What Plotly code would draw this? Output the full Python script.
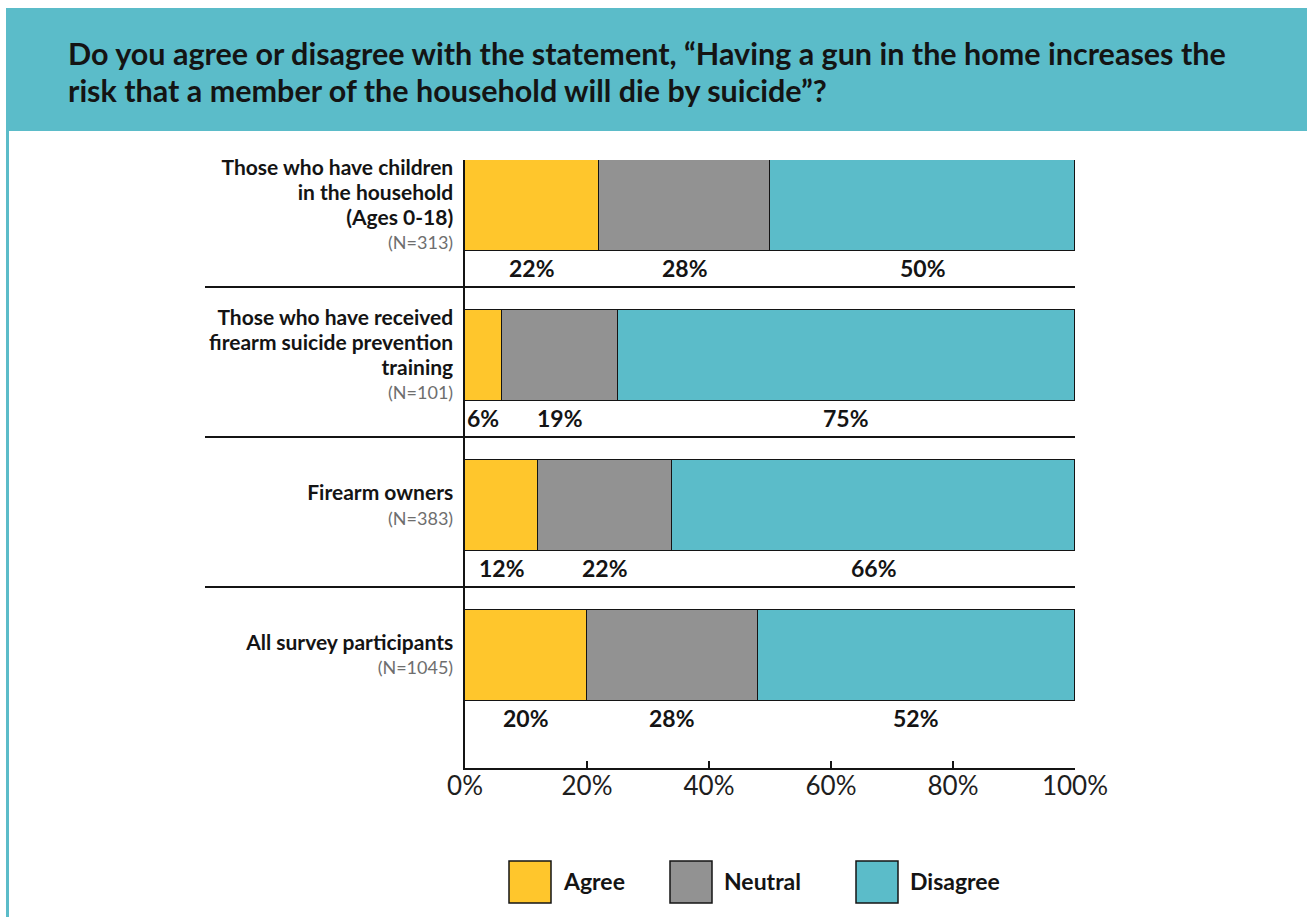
import plotly.graph_objects as go

# ---- data ----
groups = [
    ["Those who have children", "in the household", "(Ages 0-18)"],
    ["Those who have received", "firearm suicide prevention", "training"],
    ["Firearm owners"],
    ["All survey participants"],
]
sample_sizes = [313, 101, 383, 1045]
agree = [22, 6, 12, 20]
neutral = [28, 19, 22, 28]
disagree = [50, 75, 66, 52]
series_names = ["Agree", "Neutral", "Disagree"]
series_colors = ["#FFC62C", "#929292", "#5BBCC9"]
x_tick_values = [0, 20, 40, 60, 80, 100]
x_tick_labels = ["0%", "20%", "40%", "60%", "80%", "100%"]
title_lines = [
    "Do you agree or disagree with the statement, \u201cHaving a gun in the home increases the",
    "risk that a member of the household will die by suicide\u201d?",
]

# ---- layout geometry (pixels) ----
FIG_W, FIG_H = 1307, 917
M_L, M_R, M_T, M_B = 465, 232, 160, 149
PLOT_W = FIG_W - M_L - M_R
PLOT_H = FIG_H - M_T - M_B
BAR_W = 0.607
n_rows = len(groups)
rows = list(range(n_rows))[::-1]          # top group drawn highest
Y_MIN, Y_MAX = -0.75, (n_rows - 1) + BAR_W / 2

TEAL = "#5BBCC9"
INK = "#141414"
FONT = "Lato"


def px_x(p):
    return (p - M_L) / PLOT_W


def px_y(p):
    return (FIG_H - M_B - p) / PLOT_H


def row_to_paper(v):
    return (v - Y_MIN) / (Y_MAX - Y_MIN)


series_values = [agree, neutral, disagree]

fig = go.Figure()
for name, color, vals in zip(series_names, series_colors, series_values):
    fig.add_trace(go.Bar(
        name=name,
        x=vals,
        y=rows,
        orientation="h",
        width=BAR_W,
        marker=dict(color=color, line=dict(color=INK, width=1.5)),
        showlegend=False,
        hoverinfo="skip",
    ))

# category labels with sample sizes
tick_text = []
for lines, n in zip(groups, sample_sizes):
    bold = "<br>".join(
        f"<span style='font-size:21px'><b>{ln}</b></span>" for ln in lines
    )
    tick_text.append(
        f"{bold}<br><span style='font-size:18px;color:#6e6e6e'>(N={n})</span>"
    )

annotations = []
shapes = []

# percentage labels under each segment
for r, a, n, d in zip(rows, agree, neutral, disagree):
    start = 0
    for v in (a, n, d):
        annotations.append(dict(
            xref="x", yref="y", x=start + v / 2, y=r - 0.417,
            text=f"<b>{v}%</b>", showarrow=False,
            font=dict(family=FONT, size=23, color=INK),
            xanchor="center", yanchor="middle",
        ))
        start += v

# separators between groups
for r in rows[:-1]:
    yy = row_to_paper(r - 0.543)
    shapes.append(dict(
        type="line", xref="paper", yref="paper",
        x0=px_x(205), x1=1, y0=yy, y1=yy,
        line=dict(color=INK, width=2),
    ))

# header band and frame line
shapes.append(dict(
    type="rect", xref="paper", yref="paper",
    x0=px_x(6), x1=px_x(FIG_W + 2), y0=px_y(131), y1=px_y(8),
    fillcolor=TEAL, line=dict(width=0), layer="below",
))
shapes.append(dict(
    type="rect", xref="paper", yref="paper",
    x0=px_x(6), x1=px_x(9), y0=px_y(FIG_H + 2), y1=px_y(131),
    fillcolor=TEAL, line=dict(width=0), layer="below",
))

# heading, one annotation per line for tight leading
for line, y_mid in zip(title_lines, [53, 90]):
    annotations.append(dict(
        xref="paper", yref="paper", x=px_x(66), y=px_y(y_mid),
        xanchor="left", yanchor="middle", align="left", showarrow=False,
        text=f"<b>{line}</b>",
        font=dict(family=FONT, size=30.5, color=INK),
    ))

# legend swatches
legend_left = [509, 670, 856]
for name, color, x0 in zip(series_names, series_colors, legend_left):
    shapes.append(dict(
        type="rect", xref="paper", yref="paper",
        x0=px_x(x0), x1=px_x(x0 + 42), y0=px_y(903), y1=px_y(861),
        fillcolor=color, line=dict(color=INK, width=1.5),
    ))
    annotations.append(dict(
        xref="paper", yref="paper", x=px_x(x0 + 52), y=px_y(881),
        xanchor="left", yanchor="middle", showarrow=False,
        text=f"<b>{name}</b>",
        font=dict(family=FONT, size=23, color=INK),
    ))

fig.update_layout(
    width=FIG_W, height=FIG_H,
    margin=dict(l=M_L, r=M_R, t=M_T, b=M_B, pad=0),
    paper_bgcolor="white", plot_bgcolor="white",
    barmode="stack", bargap=0,
    showlegend=False,
    font=dict(family=FONT, color=INK),
    xaxis=dict(
        range=[0, 100], tickvals=x_tick_values, ticktext=x_tick_labels,
        showgrid=False, zeroline=False,
        showline=True, linecolor=INK, linewidth=2,
        ticks="inside", ticklen=7, tickwidth=1.5, tickcolor=INK,
        ticklabelstandoff=-6,
        tickfont=dict(family=FONT, size=26, color="#1e1e1e"),
        fixedrange=True,
    ),
    yaxis=dict(
        range=[Y_MIN, Y_MAX], tickvals=rows, ticktext=tick_text,
        showgrid=False, zeroline=False,
        showline=True, linecolor=INK, linewidth=2,
        ticks="", ticklabelstandoff=6,
        tickfont=dict(family=FONT, size=19, color=INK),
        fixedrange=True,
    ),
    shapes=shapes,
    annotations=annotations,
)

fig.write_html("out.html")
